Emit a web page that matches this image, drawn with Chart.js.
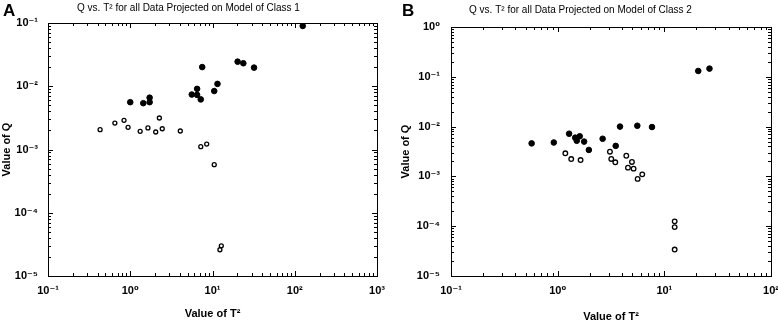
<!DOCTYPE html>
<html>

<head>
    <title>Q vs T2</title>
    <style>
        body {
            margin: 0;
            background: #fff;
            overflow: hidden;
            font-family: 'Liberation Sans', Arial, sans-serif;
        }

        .panel {
            position: absolute;
            top: 0;
            height: 327px;
        }

        .letter {
            position: absolute;
            font-weight: bold;
            font-size: 17px;
            line-height: 17px;
            color: #000;
        }
    </style>
    <script src="https://cdn.jsdelivr.net/npm/chart.js@4.4.1/dist/chart.umd.min.js"></script>
</head>

<body>
    <div class="panel" style="left:0;width:389px"><canvas id="chartA"></canvas></div>
    <div class="panel" style="left:390px;width:398px"><canvas id="chartB"></canvas></div>
    <div class="letter" style="left:3px;top:2px">A</div>
    <div class="letter" style="left:402px;top:2px">B</div>

    <script>
        // panel A - model of class 1
        var aFilledT2 = [1.0, 1.44, 1.72, 1.72, 5.6, 6.5, 6.5, 7.2, 7.5, 10.5, 11.5, 20.2, 23.7, 32, 125]
        var aFilledQ = [0.0056, 0.0054, 0.0066, 0.0056, 0.0074, 0.0091, 0.0073, 0.0062, 0.0201, 0.0084, 0.0109, 0.0245, 0.0231, 0.0197, 0.0897]
        var aOpenT2 = [0.43, 0.65, 0.84, 0.94, 1.32, 1.64, 2.04, 2.26, 2.45, 4.06, 7.2, 8.5, 10.5, 12.8, 12.3]
        var aOpenQ = [0.00206, 0.00262, 0.00289, 0.00224, 0.00194, 0.00219, 0.00189, 0.00315, 0.00213, 0.00196, 0.00111, 0.00122, 0.000575, 0.000030, 0.000026]

        // panel B - model of class 2
        var bFilledT2 = [0.57, 0.92, 1.28, 1.46, 1.61, 1.51, 1.77, 1.96, 2.64, 3.5, 3.84, 5.58, 7.66, 20.8, 26.5]
        var bFilledQ = [0.0046, 0.0048, 0.0072, 0.0060, 0.0064, 0.0052, 0.0050, 0.0034, 0.0057, 0.0041, 0.0100, 0.0104, 0.0098, 0.131, 0.146]
        var bOpenT2 = [1.18, 1.34, 1.64, 3.09, 3.18, 3.47, 4.40, 4.97, 4.56, 5.15, 5.62, 6.21, 12.5, 12.5, 12.5]
        var bOpenQ = [0.00291, 0.00223, 0.00213, 0.00313, 0.00224, 0.00192, 0.0026, 0.00195, 0.0015, 0.00143, 0.00089, 0.0011, 0.000125, 0.000096, 0.000034]

        // tick values and labels
        var xTicksA = [0.1, 1, 10, 100, 1000]
        var xLabelsA = ['10⁻¹', '10⁰', '10¹', '10²', '10³']
        var yTicksA = [0.00001, 0.0001, 0.001, 0.01, 0.1]
        var yLabelsA = ['10⁻⁵', '10⁻⁴', '10⁻³', '10⁻²', '10⁻¹']
        var xTicksB = [0.1, 1, 10, 100]
        var xLabelsB = ['10⁻¹', '10⁰', '10¹', '10²']
        var yTicksB = [0.00001, 0.0001, 0.001, 0.01, 0.1, 1]
        var yLabelsB = ['10⁻⁵', '10⁻⁴', '10⁻³', '10⁻²', '10⁻¹', '10⁰']

        var titleA = 'Q vs. T² for all Data Projected on Model of Class 1'
        var titleB = 'Q vs. T² for all Data Projected on Model of Class 2'

        var FONT = "'Liberation Sans', 'DejaVu Sans', sans-serif"

        function toPoints(xs, ys) {
            let pts = []
            for (let i = 0; i < xs.length; i++) pts.push({ x: xs[i], y: ys[i] })
            return pts
        }

        // matlab style box with inward major/minor ticks
        var boxTicks = {
            id: 'boxTicks',
            afterDraw(chart) {
                const ctx = chart.ctx
                const a = chart.chartArea
                const sx = chart.scales.x, sy = chart.scales.y
                ctx.save()
                ctx.strokeStyle = '#000'
                ctx.lineWidth = 1
                ctx.beginPath()
                function marks(scale, horiz) {
                    const lo = Math.round(Math.log10(scale.min)), hi = Math.round(Math.log10(scale.max))
                    for (let e = lo; e <= hi; e++) {
                        for (let k = 1; k <= 9; k++) {
                            const v = k * Math.pow(10, e)
                            if (v > scale.max * 1.0001) break
                            const len = k == 1 ? 5 : 3
                            const p = Math.round(scale.getPixelForValue(v)) + 0.5
                            if (horiz) {
                                ctx.moveTo(p, a.bottom); ctx.lineTo(p, a.bottom - len)
                                ctx.moveTo(p, a.top); ctx.lineTo(p, a.top + len)
                            } else {
                                ctx.moveTo(a.left, p); ctx.lineTo(a.left + len, p)
                                ctx.moveTo(a.right, p); ctx.lineTo(a.right - len, p)
                            }
                        }
                    }
                }
                marks(sx, true)
                marks(sy, false)
                ctx.stroke()
                ctx.strokeRect(Math.round(a.left) + 0.5, Math.round(a.top) + 0.5, Math.round(a.right - a.left), Math.round(a.bottom - a.top))
                ctx.restore()
            }
        }

        function makePanel(id, p) {
            var ctx = document.getElementById(id).getContext('2d')
            return new Chart(ctx, {
                type: 'scatter',
                data: {
                    datasets: [{
                        label: 'open',
                        data: toPoints(p.openX, p.openY),
                        backgroundColor: '#fff',
                        borderColor: '#000',
                        borderWidth: 1.3,
                        pointRadius: p.openR
                    }, {
                        label: 'filled',
                        data: toPoints(p.fillX, p.fillY),
                        backgroundColor: '#000',
                        borderColor: '#000',
                        borderWidth: 1,
                        pointRadius: 2.8
                    }]
                },
                options: {
                    responsive: true,
                    maintainAspectRatio: false,
                    animation: false,
                    layout: { padding: { left: 0, right: p.padRight, top: 0, bottom: 0 } },
                    plugins: {
                        legend: { display: false },
                        tooltip: { enabled: false },
                        title: {
                            display: true,
                            text: p.title,
                            color: '#000',
                            font: { family: FONT, size: 10, weight: 'normal' },
                            padding: p.titlePad
                        }
                    },
                    scales: {
                        x: {
                            type: 'logarithmic',
                            min: p.xTicks[0],
                            max: p.xTicks[p.xTicks.length - 1],
                            grid: { display: false, drawTicks: false },
                            border: { display: false },
                            afterBuildTicks: (s) => { s.ticks = p.xTicks.map(v => ({ value: v })) },
                            afterFit: (s) => { s.height = 51; s.paddingLeft = 0; s.paddingRight = 0 },
                            ticks: {
                                autoSkip: false,
                                maxRotation: 0,
                                padding: 8,
                                color: '#000',
                                font: { family: FONT, size: 11, weight: 'bold' },
                                callback: (v, i) => p.xLabels[i]
                            },
                            title: {
                                display: true,
                                text: 'Value of T²',
                                color: '#000',
                                font: { family: FONT, size: 11, weight: 'bold' },
                                padding: { top: 0, bottom: p.xTitlePad }
                            }
                        },
                        y: {
                            type: 'logarithmic',
                            min: p.yTicks[0],
                            max: p.yTicks[p.yTicks.length - 1],
                            grid: { display: false, drawTicks: false },
                            border: { display: false },
                            afterBuildTicks: (s) => { s.ticks = p.yTicks.map(v => ({ value: v })) },
                            afterFit: (s) => { s.width = p.yWidth; s.paddingTop = 0; s.paddingBottom = 0 },
                            ticks: {
                                autoSkip: false,
                                padding: p.yTickPad,
                                color: '#000',
                                font: { family: FONT, size: 11, weight: 'bold' },
                                callback: (v, i) => p.yLabels[i]
                            },
                            title: {
                                display: true,
                                text: 'Value of Q',
                                color: '#000',
                                font: { family: FONT, size: 11, weight: 'bold' },
                                padding: { top: p.yTitlePad, bottom: 0 }
                            }
                        }
                    }
                },
                plugins: [boxTicks]
            })
        }

        makePanel('chartA', {
            fillX: aFilledT2, fillY: aFilledQ, openX: aOpenT2, openY: aOpenQ, openR: 2,
            xTicks: xTicksA, xLabels: xLabelsA, yTicks: yTicksA, yLabels: yLabelsA,
            title: titleA, titlePad: { top: 2, bottom: 9 },
            padRight: 12, yWidth: 48, yTickPad: 10, yTitlePad: 0, xTitlePad: 6
        })
        makePanel('chartB', {
            fillX: bFilledT2, fillY: bFilledQ, openX: bOpenT2, openY: bOpenQ, openR: 2.3,
            xTicks: xTicksB, xLabels: xLabelsB, yTicks: yTicksB, yLabels: yLabelsB,
            title: titleB, titlePad: { top: 4, bottom: 11 },
            padRight: 17, yWidth: 61, yTickPad: 11, yTitlePad: 9, xTitlePad: 3
        })
    </script>
</body>

</html>
